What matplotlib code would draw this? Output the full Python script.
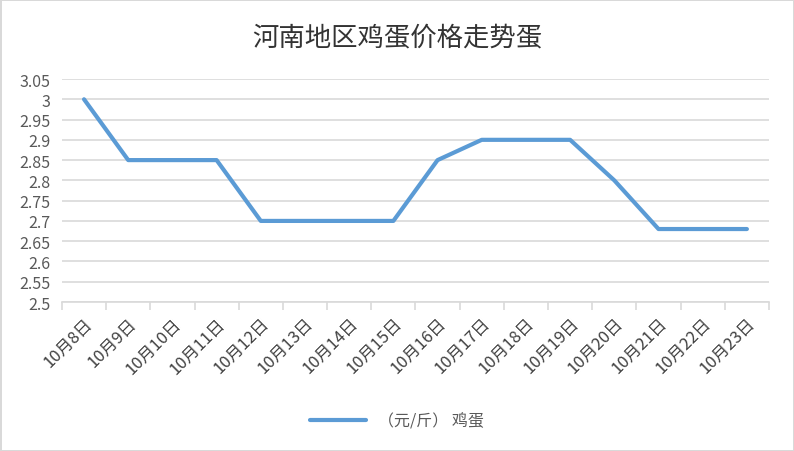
import numpy as np
import matplotlib
matplotlib.use('Agg')
import matplotlib.pyplot as plt

plt.rcParams['font.family'] = ['Noto Sans CJK SC', 'DejaVu Sans']

# data
dates = ['10月8日', '10月9日', '10月10日', '10月11日', '10月12日', '10月13日',
         '10月14日', '10月15日', '10月16日', '10月17日', '10月18日', '10月19日',
         '10月20日', '10月21日', '10月22日', '10月23日']
prices = [3.0, 2.85, 2.85, 2.85, 2.7, 2.7, 2.7, 2.7, 2.85, 2.9, 2.9, 2.9, 2.8, 2.68, 2.68, 2.68]
yticks = [2.5, 2.55, 2.6, 2.65, 2.7, 2.75, 2.8, 2.85, 2.9, 2.95, 3.0, 3.05]
ytick_labels = ['2.5', '2.55', '2.6', '2.65', '2.7', '2.75', '2.8', '2.85', '2.9', '2.95', '3', '3.05']

fig = plt.figure(figsize=(7.94, 4.52), dpi=100)
fig.patch.set_edgecolor('#d9d9d9')
fig.patch.set_linewidth(2)
ax = fig.add_axes([0.078, 0.3296, 0.8905, 0.4934])

x = np.arange(len(dates))
line, = ax.plot(x, prices, color='#5b9bd5', linewidth=3, solid_joinstyle='round',
                solid_capstyle='round', label='（元/斤） 鸡蛋')

ax.set_xlim(-0.5, len(dates) - 0.5)
ax.set_ylim(2.5, 3.05)
ax.set_yticks(yticks)
ax.set_yticklabels(ytick_labels)
ax.yaxis.grid(True, color='#d9d9d9', linewidth=1.2)
ax.set_axisbelow(True)
ax.tick_params(axis='y', length=0, pad=8, labelsize=11.5, labelcolor='#595959')

ax.set_xticks(x)
ax.set_xticklabels(dates, rotation=45, ha='right', va='top', rotation_mode='anchor')
ax.set_xticks(np.arange(-0.5, len(dates)), minor=True)
ax.tick_params(axis='x', which='major', length=0, pad=9, labelsize=12, labelcolor='#404040')
ax.tick_params(axis='x', which='minor', length=6, width=1.2, color='#d9d9d9')

for s in ['left', 'right', 'top']:
    ax.spines[s].set_visible(False)
ax.spines['bottom'].set_color('#d9d9d9')
ax.spines['bottom'].set_linewidth(1.2)

fig.text(0.5, 0.915, '河南地区鸡蛋价格走势蛋', ha='center', va='center',
         fontsize=19, color='#333333')

fig.legend(handles=[line], loc='center', bbox_to_anchor=(0.5, 0.067), frameon=False,
           fontsize=11.5, handlelength=3.5, labelcolor='#595959')

fig.savefig('out.png', dpi=100, edgecolor=fig.get_edgecolor())
